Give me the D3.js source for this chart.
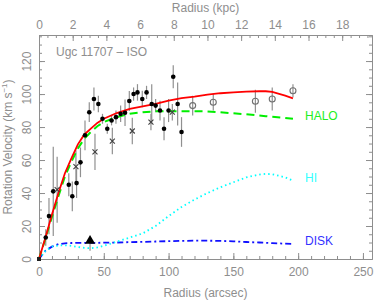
<!DOCTYPE html>
<html>
<head>
<meta charset="utf-8">
<script src="https://cdn.jsdelivr.net/npm/d3@7"></script>
<style>
  body { margin: 0; background: #fff; }
  text { font-family: "Liberation Sans", "DejaVu Sans", sans-serif; }
</style>
</head>
<body>
<script>
// filled points (arcsec, km/s, error)
const filledR = [5.2, 7.7, 11, 23, 25.7, 29, 32, 35.5, 38.8, 42.4, 45.8, 49, 52.7, 56, 59.4, 63, 66.4, 69.7, 73, 76, 79.7, 83, 87, 90, 93.4, 96.5, 100, 103.6, 107, 110];
const filledV = [13, 26, 41, 45, 38, 46, 58.6, 75, 89, 97, 94, 85, 79, 84, 86, 88, 88.7, 95.8, 100, 101, 97, 101, 94, 93, 90, 79, 90, 110.5, 94, 77];
const filledE = [5, 11, 27, 7, 9, 9, 9, 9, 6, 7, 5, 3, 3, 3, 4, 5, 8, 6, 4, 5, 5, 4, 12, 4, 6, 7, 7, 7, 13, 9];

// crosses
const crossR = [14, 28.5, 43.2, 56.6, 72, 86.4, 102.9];
const crossV = [42, 56, 65, 71.5, 77.6, 83, 89];
const crossE = [20, 10, 11, 8, 8, 5, 5];

// open circles
const openR = [118.6, 134.5, 167, 180, 196];
const openV = [93, 95, 95.6, 97, 102];
const openE = [6, 5, 7, 7, 4];

// model curves
const modelR = [0, 5, 10, 15, 20, 25, 30, 35, 40, 45, 50, 60, 70, 80, 90, 100, 110, 120, 130, 140, 150, 160, 170, 175, 180, 190, 196];
const totalV = [0, 13, 27, 40, 52, 61, 69.5, 75.5, 79, 82.5, 85, 88.5, 91, 92.5, 94, 96, 97.5, 98.5, 99.7, 100.5, 101, 101.5, 101.7, 101.7, 101.3, 99, 97.4];
const haloV = [0, 12.5, 25.5, 38, 50, 59, 67, 73, 77, 80.5, 83, 86, 88, 89, 89.5, 89.5, 89.5, 89.5, 89.5, 89, 88.3, 87.7, 87, 86.6, 86.2, 85.5, 85];
const hiV = [0, 5, 7.5, 8.2, 8.3, 8, 7.3, 6.8, 6.5, 7, 8, 10.5, 13, 15.5, 20, 26, 31.5, 36, 40, 43.5, 46.5, 49.5, 51.2, 51.6, 51.4, 49.5, 47.5];
const diskV = [0, 5, 7.5, 9, 9.5, 9.7, 9.8, 9.8, 9.8, 9.8, 9.9, 10, 10.2, 10.4, 10.6, 10.8, 11, 11.1, 11.1, 11, 10.7, 10.3, 10, 9.8, 9.6, 9.3, 9.1];

const starR = 39.4, starV = 11;

const xTicks = [0, 50, 100, 150, 200, 250];
const kpcTicks = [0, 2, 4, 6, 8, 10, 12, 14, 16, 18];
const yTicks = [0, 20, 40, 60, 80, 100, 120];

const W = 375, H = 300;
const L = 39, R = 372, T = 35, B = 259;
const axisCol = '#8e8e8e';

const svg = d3.select('body').append('svg')
  .attr('width', W)
  .attr('height', H);

const x = d3.scaleLinear().domain([0, 257]).range([L, R]);
const xk = d3.scaleLinear().domain([0, 257 / 13]).range([L, R]);
const y = d3.scaleLinear().domain([0, 135.8]).range([B, T]);

function styleAxis(g) {
  g.select('.domain').attr('stroke', axisCol);
  g.selectAll('.tick line').attr('stroke', axisCol);
  g.selectAll('.tick text').attr('fill', axisCol).style('font-size', '12px');
}

// bottom
svg.append('g').attr('transform', `translate(0,${B})`)
  .call(d3.axisBottom(x).tickValues(d3.range(0, 257, 10)).tickSize(-3).tickFormat('').tickSizeOuter(0))
  .call(styleAxis);
svg.append('g').attr('transform', `translate(0,${B})`)
  .call(d3.axisBottom(x).tickValues(xTicks).tickSize(-6).tickPadding(8).tickSizeOuter(0))
  .call(styleAxis);

// top
svg.append('g').attr('transform', `translate(0,${T})`)
  .call(d3.axisTop(xk).tickValues(d3.range(0, 19.7, 0.5)).tickSize(-3).tickFormat('').tickSizeOuter(0))
  .call(styleAxis);
svg.append('g').attr('transform', `translate(0,${T})`)
  .call(d3.axisTop(xk).tickValues(kpcTicks).tickSize(-6).tickPadding(6).tickSizeOuter(0))
  .call(styleAxis);

// left
svg.append('g').attr('transform', `translate(${L},0)`)
  .call(d3.axisLeft(y).tickValues(d3.range(0, 136, 5)).tickSize(-3).tickFormat('').tickSizeOuter(0))
  .call(styleAxis);
const yl = svg.append('g').attr('transform', `translate(${L},0)`)
  .call(d3.axisLeft(y).tickValues(yTicks).tickSize(-6).tickSizeOuter(0))
  .call(styleAxis);
yl.selectAll('.tick text')
  .attr('x', null).attr('dy', null)
  .attr('text-anchor', 'middle')
  .attr('transform', 'translate(-8,0) rotate(-90)');

// right
svg.append('g').attr('transform', `translate(${R},0)`)
  .call(d3.axisRight(y).tickValues(d3.range(0, 136, 5)).tickSize(-3).tickFormat('').tickSizeOuter(0))
  .call(styleAxis);
svg.append('g').attr('transform', `translate(${R},0)`)
  .call(d3.axisRight(y).tickValues(yTicks).tickSize(-6).tickFormat('').tickSizeOuter(0))
  .call(styleAxis);

// axis titles
svg.append('text').attr('x', (L + R) / 2).attr('y', 297)
  .attr('text-anchor', 'middle').attr('fill', axisCol).style('font-size', '12px')
  .text('Radius (arcsec)');
svg.append('text').attr('x', (L + R) / 2).attr('y', 12)
  .attr('text-anchor', 'middle').attr('fill', axisCol).style('font-size', '12px')
  .text('Radius (kpc)');
const yt = svg.append('text')
  .attr('transform', `translate(12,${(T + B) / 2}) rotate(-90)`)
  .attr('text-anchor', 'middle').attr('fill', axisCol).style('font-size', '12px');
yt.append('tspan').text('Rotation Velocity (km s');
yt.append('tspan').attr('dy', -5).style('font-size', '8px').text('\u22121');
yt.append('tspan').attr('dy', 5).text(')');

svg.append('text').attr('x', 56).attr('y', 56)
  .attr('fill', axisCol).style('font-size', '12px')
  .text('Ugc 11707 \u2013 ISO');

// error bars
const errCol = '#909090';
function errBars(rs, vs, es) {
  svg.append('g').selectAll('line')
    .data(rs).enter()
    .append('line')
    .attr('x1', d => x(d)).attr('x2', d => x(d))
    .attr('y1', (d, i) => y(vs[i] - es[i]))
    .attr('y2', (d, i) => y(vs[i] + es[i]))
    .attr('stroke', errCol).attr('stroke-width', 1.2);
}
errBars(filledR, filledV, filledE);
errBars(crossR, crossV, crossE);
errBars(openR, openV, openE);

// model lines
const line = vals => d3.line()
  .x((d, i) => x(modelR[i]))
  .y(d => y(d))(vals);

svg.append('path').attr('d', line(diskV))
  .attr('fill', 'none').attr('stroke', '#1010ff').attr('stroke-width', 1.8)
  .attr('stroke-dasharray', '6,3,2,3');
svg.append('path').attr('d', line(hiV))
  .attr('fill', 'none').attr('stroke', '#00ffff').attr('stroke-width', 1.8)
  .attr('stroke-dasharray', '1.5,3');
svg.append('path').attr('d', line(haloV))
  .attr('fill', 'none').attr('stroke', '#00ee00').attr('stroke-width', 2)
  .attr('stroke-dasharray', '8,5');
svg.append('path').attr('d', line(totalV))
  .attr('fill', 'none').attr('stroke', '#ff0000').attr('stroke-width', 1.8);

// markers
svg.append('g').selectAll('circle')
  .data(filledR).enter()
  .append('circle')
  .attr('cx', d => x(d))
  .attr('cy', (d, i) => y(filledV[i]))
  .attr('r', 2.3)
  .attr('fill', '#000');

svg.append('g').selectAll('path')
  .data(crossR).enter()
  .append('path')
  .attr('d', (d, i) => {
    const cx = x(d), cy = y(crossV[i]), s = 2.5;
    return `M${cx - s},${cy - s}L${cx + s},${cy + s}M${cx - s},${cy + s}L${cx + s},${cy - s}`;
  })
  .attr('stroke', '#404040').attr('stroke-width', 1.1);

svg.append('g').selectAll('circle')
  .data(openR).enter()
  .append('circle')
  .attr('cx', d => x(d))
  .attr('cy', (d, i) => y(openV[i]))
  .attr('r', 3)
  .attr('fill', 'none')
  .attr('stroke', '#707070').attr('stroke-width', 1.1);

// origin marker
svg.append('rect').attr('x', x(0) - 2).attr('y', y(0) - 2)
  .attr('width', 4).attr('height', 4).attr('fill', '#202020');

// star marker
svg.append('line')
  .attr('x1', x(starR)).attr('x2', x(starR))
  .attr('y1', y(starV)).attr('y2', y(starV - 6))
  .attr('stroke', errCol).attr('stroke-width', 1.2);
svg.append('path')
  .attr('d', d3.symbol().type(d3.symbolTriangle).size(45)())
  .attr('transform', `translate(${x(starR)},${y(starV)})`)
  .attr('fill', '#000');

// labels
const labX = 305;
svg.append('text').attr('x', labX).attr('y', 120)
  .attr('fill', '#22ee22').style('font-size', '12px').text('HALO');
svg.append('text').attr('x', labX).attr('y', 182)
  .attr('fill', '#33ffff').style('font-size', '12px').text('HI');
svg.append('text').attr('x', labX).attr('y', 245)
  .attr('fill', '#3333ff').style('font-size', '12px').text('DISK');
</script>
</body>
</html>
